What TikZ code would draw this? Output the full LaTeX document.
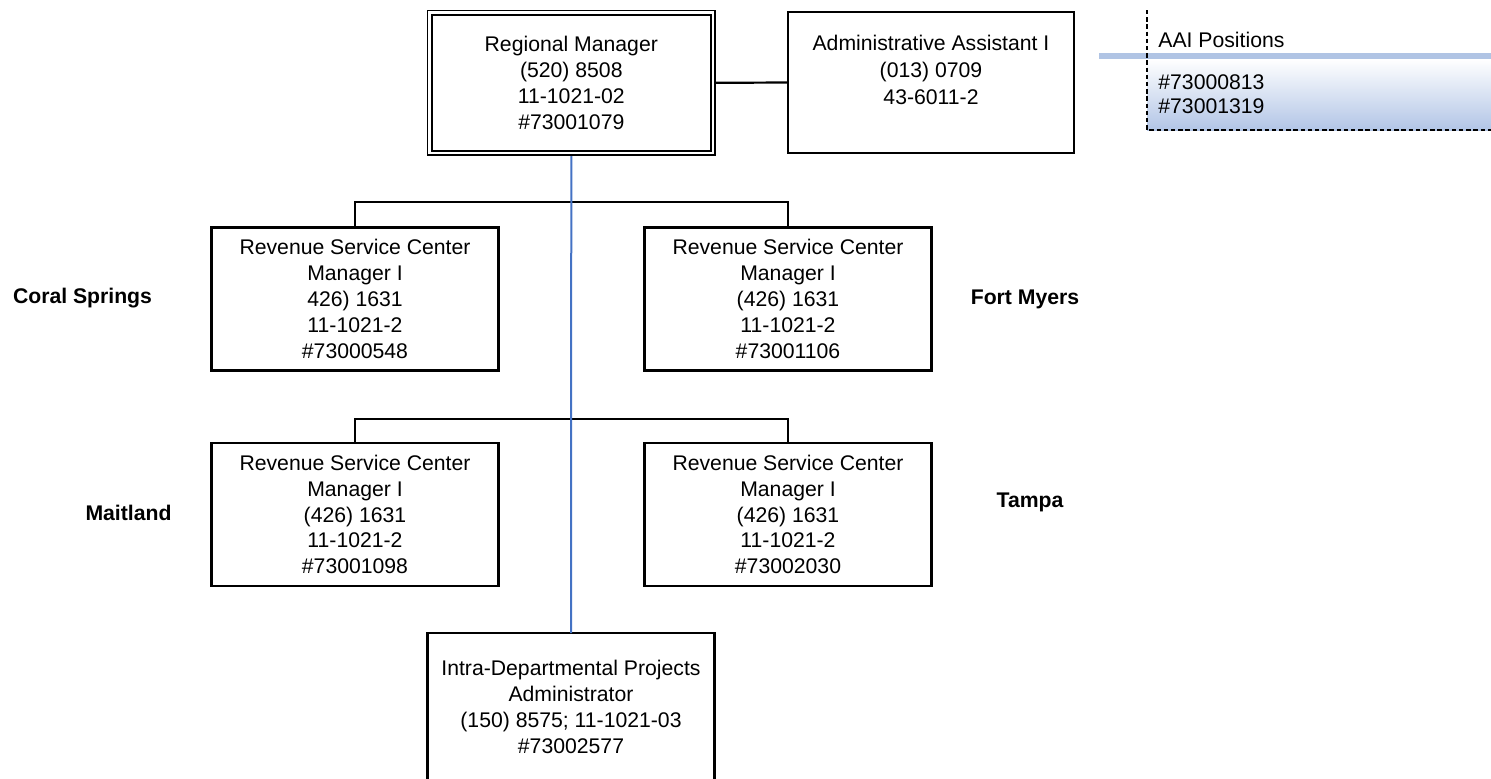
\documentclass[tikz,border=0pt]{standalone}
\usepackage{fontspec}
\setmainfont{Liberation Sans}
\definecolor{spineblue}{RGB}{68,114,196}
\definecolor{barblue}{RGB}{176,196,228}
\definecolor{panelblue}{RGB}{178,197,230}
\begin{document}
\begin{tikzpicture}[x=0.5pt,y=-0.5pt,
  box/.style={draw, line width=1.1pt, minimum width=143.5pt, minimum height=71.5pt,
    inner sep=0pt, outer sep=0pt, align=center, font=\fontsize{10.6}{12.9}\selectfont},
  topbox/.style={box, line width=0.85pt, double, double distance=1.25pt, outer sep=1.5pt,
    minimum width=141.6pt, minimum height=70.2pt, font=\fontsize{10.6}{13}\selectfont},
  txt/.style={align=center, inner sep=0pt, font=\fontsize{10.6}{13.3}\selectfont},
  noteline/.style={align=left, inner sep=0pt, anchor=west, font=\fontsize{10.6}{12}\selectfont},
  site/.style={inner sep=0pt, font=\fontsize{10.6}{13}\selectfont\bfseries},
  link/.style={line width=1.1pt},
  spine/.style={line width=1pt, draw=spineblue},
  panelrule/.style={line width=0.75pt, dash pattern=on 2.2pt off 1.4pt}]

\useasboundingbox (0,0) rectangle (1491,778);

% position list panel
\shade[top color=white, bottom color=panelblue] (1147,59) rectangle (1491,130);
\fill[barblue] (1099,53) rectangle (1491,59);
\draw[panelrule] (1147,10) -- (1147,130) -- (1491,130);
\node[noteline] (aaihead) at (1158,40) {AAI Positions};
\node[noteline] (aailist) at (1158,94) {\#73000813\\\#73001319};

% top row
\node[topbox] (rm) at (571.3,82.8) {Regional Manager\\(520) 8508\\11-1021-02\\\#73001079};
\node[box, minimum width=143pt, minimum height=70.5pt] (aa) at (931,82.5) {};
\node[txt] (aatext) at (931,70) {Administrative Assistant I\\(013) 0709\\43-6011-2};

% service centers
\node[box] (l1a) at (355,299) {Revenue Service Center\\Manager I\\426) 1631\\11-1021-2\\\#73000548};
\node[box] (l1b) at (788,299) {Revenue Service Center\\Manager I\\(426) 1631\\11-1021-2\\\#73001106};
\node[box] (l2a) at (355,514.5) {Revenue Service Center\\Manager I\\(426) 1631\\11-1021-2\\\#73001098};
\node[box] (l2b) at (788,514.5) {Revenue Service Center\\Manager I\\(426) 1631\\11-1021-2\\\#73002030};

% projects administrator
\node[box, minimum height=74pt] (idpa) at (571,707)
  {Intra-Departmental Projects\\Administrator\\(150) 8575; 11-1021-03\\\#73002577};

% site names
\node[site] (coral) at (82.5,298) {Coral Springs};
\node[site] (fort) at (1025,299) {Fort Myers};
\node[site] (mait) at (128.5,513) {Maitland};
\node[site] (tampa) at (1030,502) {Tampa};

% connectors
\coordinate (b1) at (571,202);
\coordinate (b2) at (571,419);
\draw[link] (rm.east) -- (aa.west);
\draw[link] (l1a.north) |- (b1) -| (l1b.north);
\draw[link] (l2a.north) |- (b2) -| (l2b.north);
\draw[spine] (rm.south) -- (idpa.north);
\end{tikzpicture}
\end{document}
